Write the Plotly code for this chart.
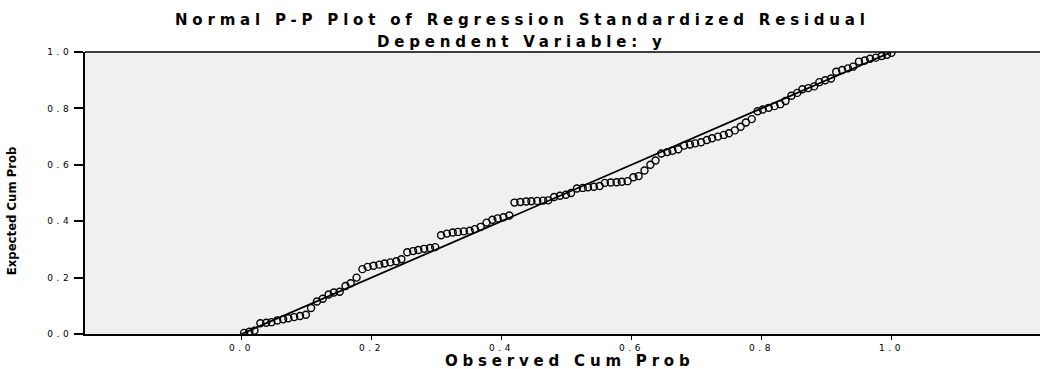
import plotly.graph_objects as go

# Observed cumulative probability (x) and expected cumulative probability (y)
observed_cum_prob = [
    0.004, 0.012, 0.020, 0.029, 0.038, 0.046, 0.055, 0.064, 0.072, 0.081,
    0.090, 0.099, 0.107, 0.116, 0.125, 0.134, 0.142, 0.151, 0.160, 0.168,
    0.177, 0.186, 0.194, 0.203, 0.212, 0.220, 0.229, 0.238, 0.246, 0.255,
    0.264, 0.272, 0.281, 0.290, 0.298, 0.307, 0.316, 0.325, 0.333, 0.342,
    0.351, 0.359, 0.368, 0.377, 0.386, 0.394, 0.403, 0.412, 0.420, 0.429,
    0.438, 0.446, 0.455, 0.464, 0.472, 0.481, 0.490, 0.499, 0.507, 0.516,
    0.525, 0.533, 0.542, 0.551, 0.559, 0.568, 0.577, 0.585, 0.594, 0.603,
    0.611, 0.620, 0.629, 0.637, 0.646, 0.655, 0.663, 0.672, 0.681, 0.690,
    0.698, 0.707, 0.716, 0.724, 0.733, 0.742, 0.750, 0.759, 0.768, 0.776,
    0.785, 0.794, 0.802, 0.811, 0.820, 0.829, 0.837, 0.846, 0.855, 0.863,
    0.872, 0.881, 0.889, 0.898, 0.907, 0.915, 0.924, 0.933, 0.941, 0.950,
    0.959, 0.967, 0.976, 0.985, 0.993, 1.000,
]
expected_cum_prob = [
    0.004, 0.008, 0.012, 0.038, 0.040, 0.042, 0.048, 0.052, 0.056, 0.060,
    0.064, 0.068, 0.092, 0.115, 0.125, 0.140, 0.147, 0.150, 0.170, 0.180,
    0.200, 0.230, 0.238, 0.242, 0.246, 0.250, 0.254, 0.258, 0.265, 0.290,
    0.294, 0.298, 0.302, 0.305, 0.308, 0.350, 0.356, 0.360, 0.362, 0.364,
    0.366, 0.372, 0.380, 0.395, 0.405, 0.410, 0.414, 0.420, 0.466, 0.468,
    0.470, 0.471, 0.472, 0.473, 0.474, 0.486, 0.490, 0.494, 0.500, 0.516,
    0.518, 0.520, 0.522, 0.525, 0.536, 0.537, 0.538, 0.540, 0.542, 0.556,
    0.560, 0.580, 0.600, 0.615, 0.640, 0.645, 0.650, 0.655, 0.668, 0.672,
    0.676, 0.680, 0.688, 0.694, 0.700, 0.706, 0.712, 0.722, 0.735, 0.750,
    0.762, 0.790, 0.796, 0.802, 0.808, 0.815, 0.826, 0.845, 0.855, 0.868,
    0.872, 0.878, 0.893, 0.900, 0.906, 0.930, 0.936, 0.942, 0.948, 0.966,
    0.970, 0.976, 0.980, 0.986, 0.990, 0.997,
]
reference_line = [0.0, 1.0]

tick_values = [0.0, 0.2, 0.4, 0.6, 0.8, 1.0]
tick_labels = ["0.0", "0.2", "0.4", "0.6", "0.8", "1.0"]

title_line1 = "Normal P-P Plot of Regression Standardized Residual"
title_line2 = "Dependent Variable: y"
x_title = "Observed Cum Prob"
y_title = "Expected Cum Prob"


def spaced(text, px):
    return f"<span style='letter-spacing:{px}px'>{text}</span>"


W, H = 1040, 369
L, T, B, R = 85, 51.5, 35, 0
plot_w = W - L - R
plot_h = H - T - B


def px_to_paper_x(px):
    return (px - L) / plot_w


def px_to_paper_y(py):
    return (H - B - py) / plot_h


fig = go.Figure()
fig.add_trace(go.Scatter(
    x=reference_line, y=reference_line, mode="lines",
    line=dict(color="black", width=1.8), hoverinfo="skip", showlegend=False,
))
fig.add_trace(go.Scatter(
    x=observed_cum_prob, y=expected_cum_prob, mode="markers",
    marker=dict(symbol="circle-open", size=7, color="black", line=dict(width=1.4)),
    showlegend=False,
))

tick_font = dict(family="DejaVu Sans, Arial, sans-serif", size=9, color="black")
fig.update_xaxes(
    range=[-0.2408, 1.2285], tickvals=tick_values,
    ticktext=[spaced(t, 3.5) for t in tick_labels],
    showgrid=False, zeroline=False, showline=True, linecolor="black", linewidth=2,
    ticks="outside", ticklen=4, tickwidth=1, tickcolor="black", tickfont=tick_font,
)
fig.update_yaxes(
    range=[0, 1], tickvals=tick_values,
    ticktext=[spaced(t, 3.5) for t in tick_labels],
    showgrid=False, zeroline=False, showline=True, linecolor="black", linewidth=2,
    ticks="outside", ticklen=9, tickwidth=2, tickcolor="black", tickfont=tick_font,
)

bold_font = dict(family="DejaVu Sans, Arial, sans-serif", size=15, color="black")
annotations = [
    dict(text="<b>" + spaced(title_line1, 4.8) + "</b>", x=px_to_paper_x(522), y=px_to_paper_y(19)),
    dict(text="<b>" + spaced(title_line2, 4.8) + "</b>", x=px_to_paper_x(522), y=px_to_paper_y(41)),
    dict(text="<b>" + spaced(x_title, 4.8) + "</b>", x=px_to_paper_x(569), y=px_to_paper_y(361)),
]
layout_ann = []
for a in annotations:
    layout_ann.append(dict(
        xref="paper", yref="paper", showarrow=False, xanchor="center", yanchor="middle",
        font=bold_font, **a,
    ))
layout_ann.append(dict(
    text="<b>" + y_title + "</b>", xref="paper", yref="paper",
    x=px_to_paper_x(11), y=px_to_paper_y(211), textangle=-90, showarrow=False,
    xanchor="center", yanchor="middle",
    font=dict(family="DejaVu Sans Condensed, Liberation Sans Narrow, DejaVu Sans, sans-serif",
              size=13, color="black"),
))

fig.update_layout(
    width=W, height=H,
    margin=dict(l=L, r=R, t=T, b=B, pad=0),
    paper_bgcolor="white", plot_bgcolor="#f0f0f0",
    annotations=layout_ann,
    shapes=[dict(type="line", xref="paper", yref="paper", x0=0, x1=1, y0=1, y1=1,
                 line=dict(color="black", width=1.5))],
)

fig.write_html("out.html", config={"displayModeBar": False},
               post_script="document.body.style.margin='0';")
